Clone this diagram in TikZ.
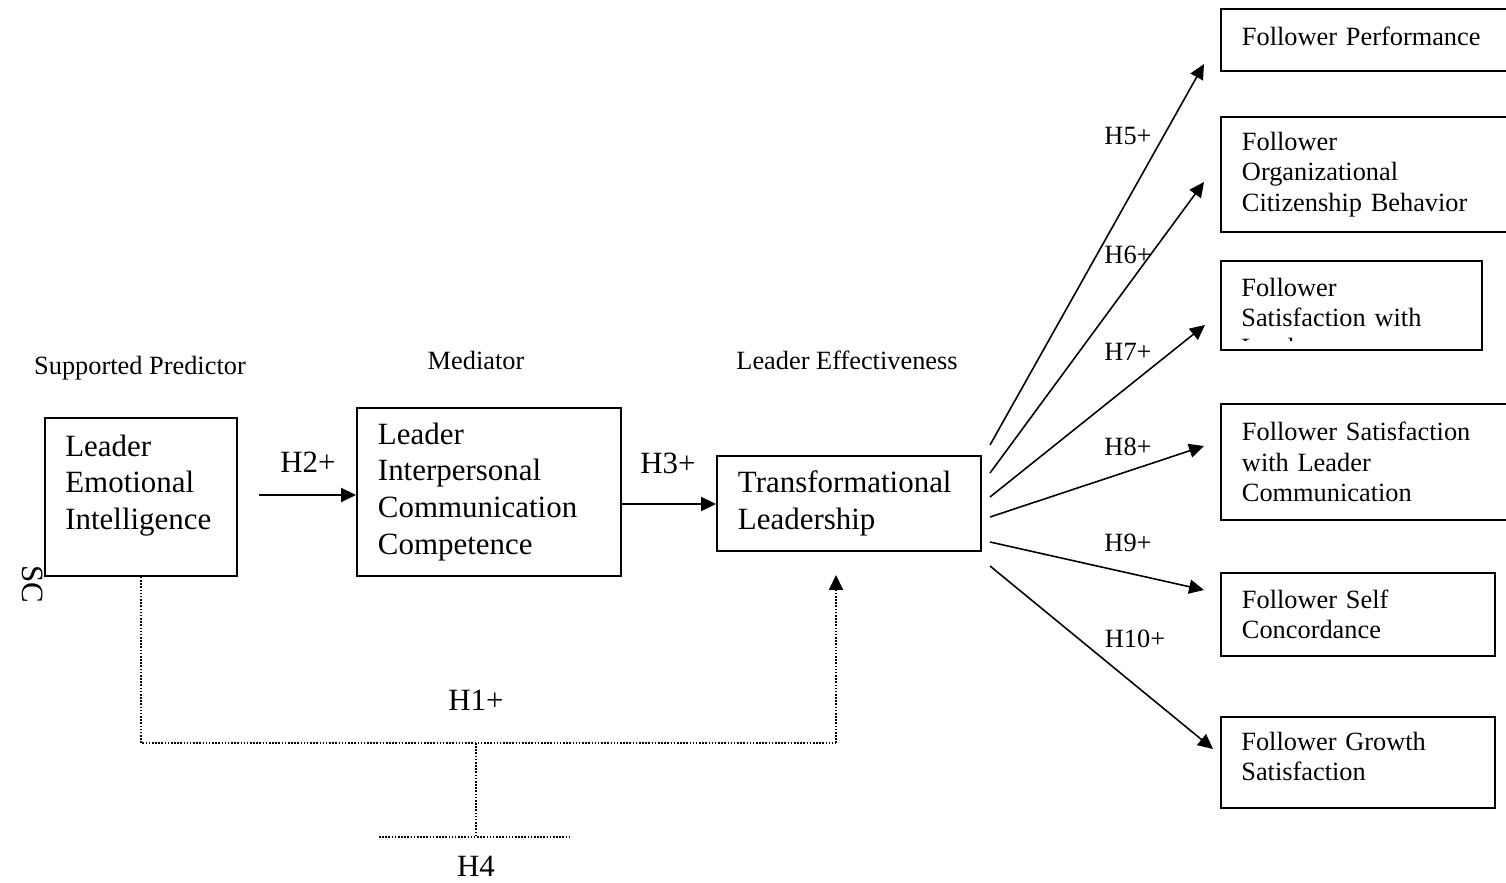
\documentclass[tikz,border=0pt]{standalone}
\usepackage{fontspec}
\setmainfont{Liberation Serif}
\usetikzlibrary{arrows.meta}
\tikzset{
  box/.style={draw, line width=1.1pt, align=left, inner xsep=0.42cm, inner ysep=0pt, anchor=north west},
  boxtext/.style={anchor=base west, align=left, inner sep=0pt},
  big/.style={font=\fontsize{17.6}{21}\selectfont},
  small/.style={font=\fontsize{15}{17.3}\selectfont},
  head/.style={-{Triangle[length=8.5pt,width=8pt]}},
  link/.style={line width=1pt, head},
  fan/.style={line width=0.9pt, head},
  dots/.style={line width=0.9pt, dash pattern=on 0.9pt off 0.9pt},
}
\begin{document}
\begin{tikzpicture}[x=0.02cm,y=-0.02cm]
  \clip (0,0) rectangle (1506,882);
  \node[box, minimum width=3.84cm, minimum height=3.16cm] (lei) at (44,417) {};
  \node[boxtext, big, text width=3.0cm] (leitext) at (65,456) {Leader\\Emotional\\Intelligence};
  \node[box, big, text width=4.44cm, minimum height=3.36cm] (licc) at (356,407) {Leader\\Interpersonal\\Communication\\Competence};
  \node[box, big, text width=4.44cm, minimum height=1.9cm] (tl) at (716,455) {Transformational\\Leadership};
  \node[box, small, text width=5.06cm, minimum height=1.24cm, text depth=0.16cm] (fp) at (1220,8) {Follower Performance};
  \node[box, small, text width=5.06cm, minimum height=2.3cm] (focb) at (1220,116) {Follower\\Organizational\\Citizenship Behavior};
  \node[box, minimum width=5.22cm, minimum height=1.78cm] (fswl) at (1220,260) {};
  \begin{scope}
    \clip (fswl.north west) rectangle (1481,340);
    \node[boxtext, small, text width=4.38cm] (fswltext) at (1241,296) {Follower\\Satisfaction with\\Leader};
  \end{scope}
  \node[box, small, text width=5.06cm, minimum height=2.32cm] (fslc) at (1220,403) {Follower Satisfaction\\with Leader\\Communication};
  \node[box, small, text width=4.64cm, minimum height=1.66cm] (fsc) at (1220,572) {Follower Self\\Concordance};
  \node[box, minimum width=5.48cm, minimum height=1.82cm] (fgs) at (1220,716) {};
  \node[boxtext, small, text width=4.64cm] (fgstext) at (1241,750) {Follower Growth\\Satisfaction};

  \node[small] (predictor) at (140,368) {Supported Predictor};
  \node[small] (mediator) at (476,360) {Mediator};
  \node[small] (effect) at (847,360) {Leader Effectiveness};
  \node[big, rotate=-90] (margin) at (33,584) {SC};

  \coordinate (h2start) at (259,495);
  \draw[link] (h2start) -- (h2start -| licc.west);
  \node[big] (h2) at (308,462) {H2+};
  \draw[link] (licc.east |- 0,504) -- (tl.west |- 0,504);
  \node[big] (h3) at (668,463) {H3+};

  \coordinate (h1corner) at (836,743);
  \coordinate (h1tip) at (836,575);
  \draw[dots] (lei.south) |- (h1corner);
  \draw[dots, head] (h1corner) -- (h1tip);
  \node[big] (h1) at (476,700) {H1+};
  \coordinate (h4top) at (476,743);
  \coordinate (h4foot) at (476,837);
  \coordinate (h4left) at (379,837);
  \coordinate (h4right) at (570,837);
  \draw[dots] (h4top) -- (h4foot);
  \draw[dots] (h4left) -- (h4right);
  \node[big] (h4) at (476,866) {H4};

  \coordinate (s5) at (990,445);
  \coordinate (s6) at (990,473);
  \coordinate (s7) at (990,497);
  \coordinate (s8) at (990,517);
  \coordinate (s9) at (990,542);
  \coordinate (s10) at (990,566);
  \coordinate (e5) at (1204,64);
  \coordinate (e6) at (1204,182);
  \coordinate (e7) at (1205,325);
  \coordinate (e8) at (1204,446);
  \coordinate (e9) at (1204,590);
  \coordinate (e10) at (1213,749);
  \draw[fan] (s5) -- (e5);
  \draw[fan] (s6) -- (e6);
  \draw[fan] (s7) -- (e7);
  \draw[fan] (s8) -- (e8);
  \draw[fan] (s9) -- (e9);
  \draw[fan] (s10) -- (e10);
  \node[small] (h5) at (1128,136) {H5+};
  \node[small] (h6) at (1128,255) {H6+};
  \node[small] (h7) at (1128,352) {H7+};
  \node[small] (h8) at (1128,447) {H8+};
  \node[small] (h9) at (1128,543) {H9+};
  \node[small] (h10) at (1135,639) {H10+};
\end{tikzpicture}
\end{document}
